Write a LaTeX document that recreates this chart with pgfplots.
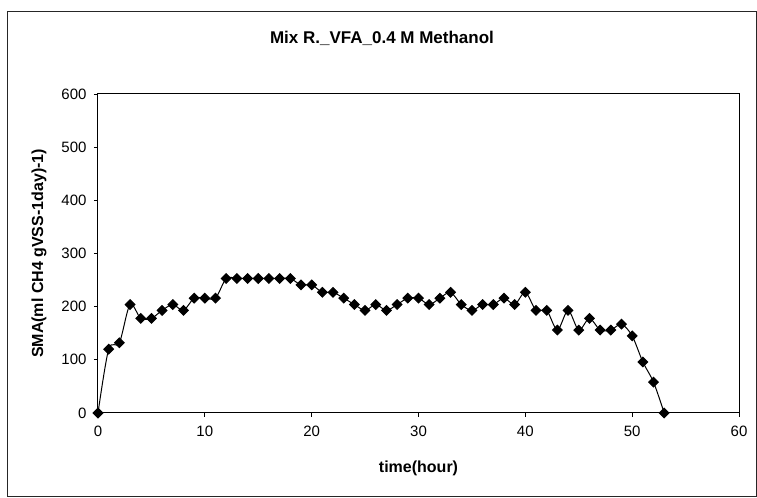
\documentclass[border=0pt]{standalone}
\usepackage{pgfplots}
\pgfplotsset{compat=1.18}
\usepackage{fontspec}
\setmainfont{Liberation Sans}
\begin{document}
\begin{tikzpicture}[x=1bp,y=1bp]
\path (-98,-85) rectangle (659,413);
\draw[line width=1bp, black!85] (-90,-84) rectangle (658,401);
\node[font=\bfseries\fontsize{17bp}{20bp}\selectfont] at (284,375) {Mix R.\_VFA\_0.4 M Methanol};
\begin{axis}[
  at={(0,0)}, anchor=south west,
  scale only axis, width=641bp, height=319bp,
  xmin=0, xmax=60, ymin=0, ymax=600,
  xtick={0,10,...,60}, ytick={0,100,...,600},
  xtick pos=bottom, ytick pos=left,
  tick align=outside, major tick length=4bp,
  axis line style={line width=1bp},
  every tick/.style={black, line width=0.8bp},
  /pgf/number format/assume math mode=true,
  tick label style={font=\fontsize{15bp}{18bp}\selectfont},
  xticklabel style={yshift=-6bp},
  yticklabel style={xshift=-4bp},
  xlabel={time(hour)},
  ylabel={SMA(ml CH4 gVSS-1day)-1)},
  label style={font=\bfseries\fontsize{16bp}{19bp}\selectfont},
  xlabel style={at={(axis description cs:0.5,-0.1724)}, anchor=center},
  ylabel style={at={(axis description cs:-0.092,0.5)}, anchor=center},
]
\addplot[black, line width=1bp, smooth, tension=0.5, mark=square*, mark size=3.4bp, mark options={fill=black, rotate=45}] coordinates {
(0,0) (1,120) (2,132) (3,204) (4,178) (5,178) (6,193) (7,204) (8,193) (9,216)
(10,216) (11,216) (12,253) (13,253) (14,253) (15,253) (16,253) (17,253) (18,253) (19,241)
(20,241) (21,227) (22,227) (23,216) (24,204) (25,193) (26,204) (27,193) (28,204) (29,216)
(30,216) (31,204) (32,216) (33,227) (34,204) (35,193) (36,204) (37,204) (38,216) (39,204)
(40,227) (41,193) (42,193) (43,156) (44,193) (45,156) (46,178) (47,156) (48,156) (49,167)
(50,145) (51,96) (52,58) (53,0)
};
\end{axis}
\end{tikzpicture}
\end{document}
